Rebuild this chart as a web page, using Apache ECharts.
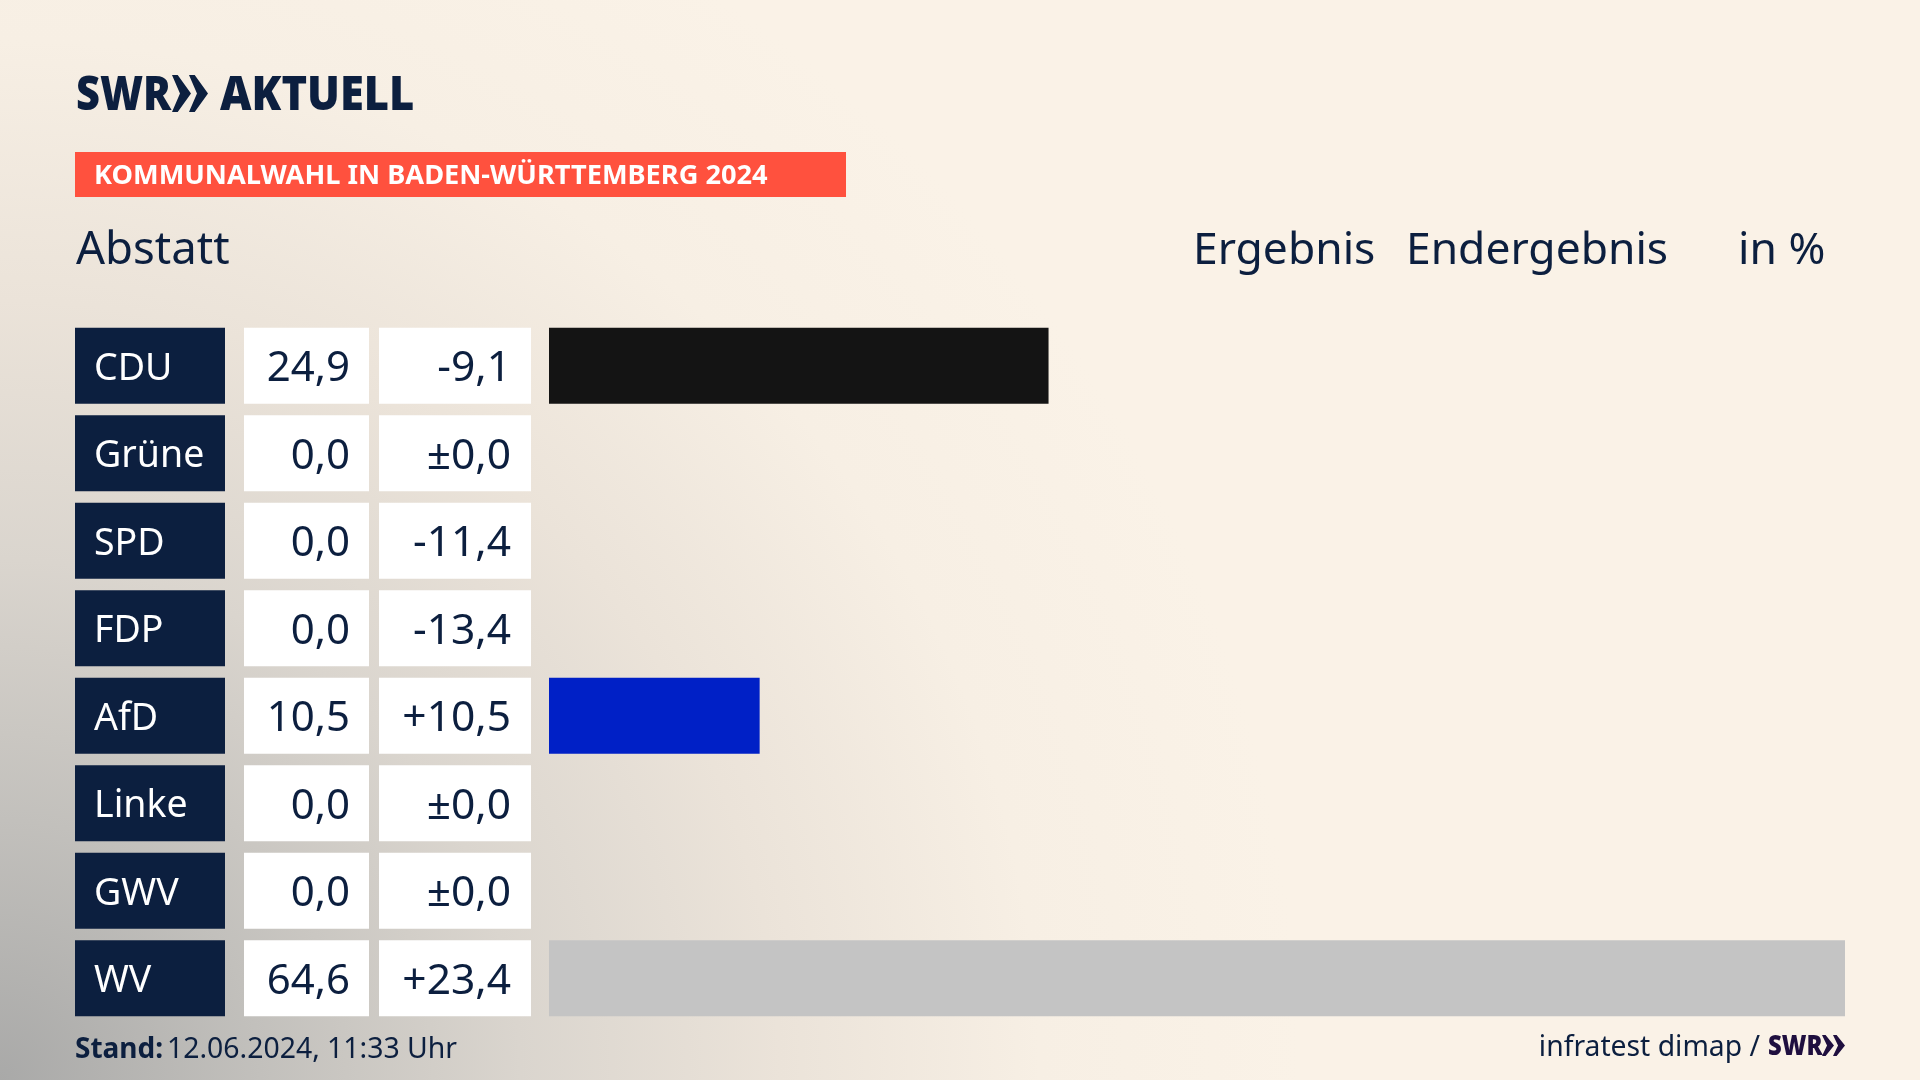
<!DOCTYPE html>
<html>
<head>
<meta charset="utf-8">
<title>Abstatt</title>
<script src="https://cdn.jsdelivr.net/npm/echarts@6/dist/echarts.min.js"></script>
<style>
  html, body { margin: 0; padding: 0; width: 1920px; height: 1080px; overflow: hidden; }
  body { background: radial-gradient(ellipse 1300px 1300px at 0 1080px, #a9a9a8 0%, #c2c0bc 20%, #dad5ce 40%, #ebe3d9 60%, #f7efe4 80%, #faf2e7 100%), #faf2e7; }
  #chart { width: 1920px; height: 1080px; }
</style>
</head>
<body>
<div id="chart"></div>
<script>
var parties = ['CDU', 'Grüne', 'SPD', 'FDP', 'AfD', 'Linke', 'GWV', 'WV'];
var results = [24.9, 0.0, 0.0, 0.0, 10.5, 0.0, 0.0, 64.6];
var changes = [-9.1, 0.0, -11.4, -13.4, 10.5, 0.0, 0.0, 23.4];
var barColors = ['#141414', '#141414', '#141414', '#141414', '#0020c6', '#141414', '#141414', '#c4c4c4'];

var navy = '#0c1f3f';
var fontName = '"Noto Sans"';

function fmt(v) { return v.toFixed(1).replace('.', ','); }
function fmtChange(v) {
  if (v === 0) return '±0,0';
  return (v > 0 ? '+' : '-') + fmt(Math.abs(v));
}

// name and value cells sit left of the bar grid, one per category
function renderCells(params, api) {
  var i = api.value(0);
  var y = api.coord([0, i])[1];
  var top = y - 38;
  return {
    type: 'group',
    children: [
      { type: 'rect', shape: { x: 75, y: top, width: 150, height: 76 }, style: { fill: navy } },
      { type: 'rect', shape: { x: 244, y: top, width: 125, height: 76 }, style: { fill: '#fff' } },
      { type: 'rect', shape: { x: 379, y: top, width: 152, height: 76 }, style: { fill: '#fff' } },
      { type: 'text', style: { text: parties[i], x: 94, y: y + 3.5, fill: '#fff', font: '37.5px ' + fontName, textAlign: 'left', textVerticalAlign: 'middle' } },
      { type: 'text', style: { text: fmt(results[i]), x: 350, y: y + 3.5, fill: navy, font: '42px ' + fontName, textAlign: 'right', textVerticalAlign: 'middle' } },
      { type: 'text', style: { text: fmtChange(changes[i]), x: 511, y: y + 3.5, fill: navy, font: '42.5px ' + fontName, textAlign: 'right', textVerticalAlign: 'middle' } }
    ]
  };
}

function label(text, x, y, font, fill, align, scaleX) {
  return {
    type: 'text', x: x, y: y, scaleX: scaleX || 1,
    style: { text: text, x: 0, y: 0, font: font, fill: fill, textAlign: align || 'left', textVerticalAlign: 'middle' }
  };
}
function chevron(x, y, w, h, fill) {
  return {
    type: 'polygon',
    shape: { points: [[x, y], [x + w * 0.3, y], [x + w, y + h / 2], [x + w * 0.3, y + h], [x, y + h], [x + w * 0.42, y + h / 2]] },
    style: { fill: fill }
  };
}

var chart = echarts.init(document.getElementById('chart'));
chart.setOption({
  backgroundColor: 'transparent',
  animation: false,
  grid: { left: 549, top: 322, width: 1296, height: 700 },
  xAxis: { type: 'value', min: 0, max: 64.6, show: false },
  yAxis: { type: 'category', inverse: true, data: parties, show: false },
  graphic: [
    label('SWR', 76, 96.5, '900 48px ' + fontName, navy, 'left', 0.865),
    chevron(172, 75, 19, 37, navy),
    chevron(189, 75, 19, 37, navy),
    label('AKTUELL', 220, 96.5, '900 48px ' + fontName, navy, 'left', 0.905),
    { type: 'rect', shape: { x: 75, y: 152, width: 771, height: 45 }, style: { fill: '#ff513e' } },
    label('KOMMUNALWAHL IN BADEN-WÜRTTEMBERG 2024', 94, 176.5, 'bold 27.2px ' + fontName, '#fff'),
    label('Abstatt', 76, 251.5, '45.5px ' + fontName, navy),
    label('Ergebnis', 1193, 251.5, '44.4px ' + fontName, navy),
    label('Endergebnis', 1406, 251.5, '44.4px ' + fontName, navy),
    label('in %', 1738, 251.5, '44.4px ' + fontName, navy),
    label('Stand:', 75, 1050, 'bold 28px ' + fontName, navy),
    label('12.06.2024, 11:33 Uhr', 167, 1050, '28.4px ' + fontName, navy),
    label('infratest dimap /', 1760, 1048, '28.3px ' + fontName, navy, 'right'),
    label('SWR', 1768, 1047, '900 28px ' + fontName, '#1f0f3f', 'left', 0.85),
    chevron(1822, 1035, 12, 21, '#1f0f3f'),
    chevron(1833, 1035, 12, 21, '#1f0f3f')
  ],
  series: [
    {
      type: 'custom',
      renderItem: renderCells,
      data: parties.map(function (p, i) { return [i]; }),
      encode: { y: 0 },
      silent: true
    },
    {
      type: 'bar',
      barWidth: 76,
      silent: true,
      data: results.map(function (v, i) {
        return { value: v, itemStyle: { color: barColors[i] } };
      })
    }
  ]
});
</script>
</body>
</html>
